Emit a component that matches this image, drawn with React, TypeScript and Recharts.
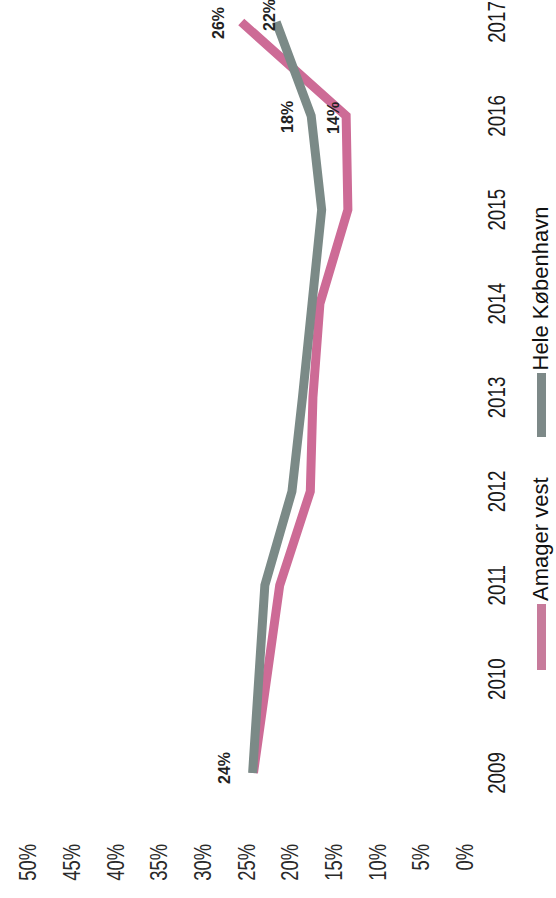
import { LineChart, Line, XAxis, YAxis, LabelList } from 'recharts';

// Share of residents, Amager vest vs. the whole city, 2009-2017
const years = ['2009', '2010', '2011', '2012', '2013', '2014', '2015', '2016', '2017'];
const amagerVest = [24.2, 22.7, 21.2, 17.7, 17.4, 16.6, 13.4, 13.6, 25.6];
const heleKobenhavn = [24.3, 23.6, 22.9, 19.8, 18.6, 17.5, 16.4, 17.6, 21.6];
const percentTicks = [0, 5, 10, 15, 20, 25, 30, 35, 40, 45, 50];

const PINK = '#cd6b96';
const GRAY = '#7b8a87';
const SANS = '"Liberation Sans", Arial, sans-serif';

// which points carry a value label, and where the label sits relative to the point
const pinkLabels: Record<number, { dx: number; dy: number }> = {
  7: { dx: -2, dy: -13 },
  8: { dx: -1, dy: -23 },
};
const grayLabels: Record<number, { dx: number; dy: number }> = {
  0: { dx: 5, dy: -28 },
  7: { dx: -1, dy: -24 },
  8: { dx: 7, dy: -7 },
};

const chartData = years.map((year, i) => ({
  year,
  amager: amagerVest[i],
  hele: heleKobenhavn[i],
}));

function pointLabel(spots: Record<number, { dx: number; dy: number }>) {
  return (props: any) => {
    const spot = spots[props.index];
    if (!spot) return null;
    return (
      <text
        x={props.x + spot.dx}
        y={props.y + spot.dy}
        textAnchor="middle"
        dominantBaseline="central"
        fontFamily={SANS}
        fontSize={16}
        fontWeight="bold"
        fill="#222"
      >
        {Math.round(props.value)}%
      </text>
    );
  };
}

// the axis text in the original is a condensed face; squeeze the regular one
const YearTick = (props: any) => {
  const { x, y, payload } = props;
  return (
    <g transform={`translate(${x},${y})`}>
      <text transform="scale(0.78,1)" textAnchor="middle" dy="0.71em" fontFamily={SANS} fontSize={24} fill="#1a1a1a">
        {payload.value}
      </text>
    </g>
  );
};

const PercentTick = (props: any) => {
  const { x, y, payload } = props;
  return (
    <g transform={`translate(${x},${y})`}>
      <text transform="scale(0.8,1)" textAnchor="end" dy="0.355em" fontFamily={SANS} fontSize={23} fill="#2a2a2a">
        {payload.value}%
      </text>
    </g>
  );
};

export default function App() {
  return (
    <div style={{ position: 'fixed', left: 0, top: 0, width: 556, height: 898, overflow: 'hidden', background: '#fff' }}>
      <div
        style={{
          position: 'absolute',
          left: 0,
          top: 0,
          width: 898,
          height: 556,
          transformOrigin: '0 0',
          transform: 'translate(0px, 898px) rotate(-90deg)',
        }}
      >
        <LineChart width={898} height={556} data={chartData} margin={{ top: 28, right: 22, bottom: 0, left: 0 }}>
          <XAxis
            dataKey="year"
            axisLine={false}
            tickLine={false}
            tickMargin={17}
            height={91}
            padding={{ left: 63, right: 0 }}
            interval={0}
            tick={YearTick}
          />
          <YAxis
            domain={[0, 50]}
            ticks={percentTicks}
            axisLine={false}
            tickLine={false}
            width={62}
            tick={PercentTick}
          />
          <Line
            dataKey="amager"
            name="Amager vest"
            stroke={PINK}
            strokeWidth={9}
            dot={false}
            isAnimationActive={false}
          >
            <LabelList dataKey="amager" content={pointLabel(pinkLabels)} />
          </Line>
          <Line
            dataKey="hele"
            name="Hele København"
            stroke={GRAY}
            strokeWidth={9}
            dot={false}
            isAnimationActive={false}
          >
            <LabelList dataKey="hele" content={pointLabel(grayLabels)} />
          </Line>
        </LineChart>

        {/* legend along the bottom edge */}
        <div
          style={{
            position: 'absolute',
            left: 228,
            top: 529,
            display: 'flex',
            alignItems: 'center',
            fontFamily: SANS,
            fontSize: 22,
            lineHeight: '24px',
            color: '#111',
            whiteSpace: 'nowrap',
          }}
        >
          <span style={{ display: 'inline-block', width: 66, height: 9, background: '#c77b9b', marginRight: 3 }} />
          <span>Amager vest</span>
          <span style={{ display: 'inline-block', width: 64, height: 9, background: '#7d8988', marginLeft: 40, marginRight: 3 }} />
          <span>Hele København</span>
        </div>
      </div>
    </div>
  );
}
